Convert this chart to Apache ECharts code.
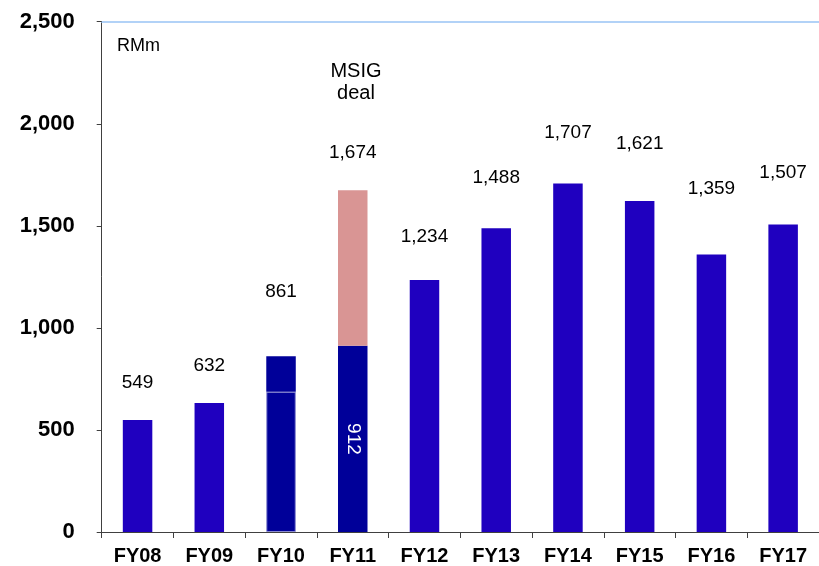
<!DOCTYPE html>
<html>
<head>
<meta charset="utf-8">
<script src="https://cdn.jsdelivr.net/npm/echarts@6/dist/echarts.min.js"></script>
<style>
html,body{margin:0;padding:0;background:#fff;}
#c{width:819px;height:566px;}
</style>
</head>
<body>
<div id="c"></div>
<script>
// ---- data ----
const categories = ['FY08','FY09','FY10','FY11','FY12','FY13','FY14','FY15','FY16','FY17'];
const baseValues = [549, 632, 687, 912, 1234, 1488, 1707, 1621, 1359, 1507];
const topValues  = [null, null, 174, 762, null, null, null, null, null, null];
const totalValues = [549, 632, 861, 1674, 1234, 1488, 1707, 1621, 1359, 1507];
const yMin = 0, yMax = 2500, yInterval = 500;
const unitText = 'RMm';
const noteText = 'MSIG\ndeal';

// ---- styling ----
const FONT = '"Liberation Sans", Arial, sans-serif';
const mainColor = '#1F00BF';
const darkColor = '#000099';
const pinkColor = '#D99594';
const darkIdx = [2, 3];
const labelGap = [28, 28, 55, 28, 34, 41, 41, 48, 56, 42];

const fmt = v => Number(v).toLocaleString('en-US');

const baseData = baseValues.map((v, i) => {
  const hasTop = topValues[i] != null;
  const item = {
    value: v,
    itemStyle: { color: darkIdx.includes(i) ? darkColor : mainColor }
  };
  if (i === 2) {
    item.itemStyle.borderColor = '#8a8ad0';
    item.itemStyle.borderWidth = 1;
  }
  if (!hasTop) {
    item.label = {
      show: true, position: 'top', distance: labelGap[i],
      formatter: () => fmt(totalValues[i]),
      color: '#000', fontSize: 19, fontFamily: FONT
    };
  } else if (i === 3) {
    item.label = {
      show: true, position: 'inside', rotate: -90,
      formatter: () => fmt(v),
      color: '#fff', fontSize: 19, fontFamily: FONT
    };
  }
  return item;
});

const topData = topValues.map((v, i) => {
  if (v == null) return null;
  return {
    value: v,
    itemStyle: { color: i === 3 ? pinkColor : darkColor },
    label: {
      show: true, position: 'top', distance: labelGap[i],
      formatter: () => fmt(totalValues[i]),
      color: '#000', fontSize: 19, fontFamily: FONT
    }
  };
});

const chart = echarts.init(document.getElementById('c'), null, { renderer: 'canvas' });
chart.setOption({
  backgroundColor: '#fff',
  animation: false,
  grid: { left: 101.7, top: 21.7, width: 727, height: 511.6, containLabel: false },
  xAxis: [{
    type: 'category',
    data: categories,
    position: 'bottom',
    axisLine: { show: true, lineStyle: { color: '#404040', width: 1 } },
    axisTick: { show: true, length: 6, lineStyle: { color: '#404040' } },
    axisLabel: { color: '#000', fontSize: 20, fontWeight: 'bold', fontFamily: FONT, margin: 14 }
  }, {
    type: 'category',
    data: categories,
    position: 'top',
    axisLine: { show: true, lineStyle: { color: '#99C4F5', width: 1.5 } },
    axisTick: { show: false },
    axisLabel: { show: false }
  }],
  yAxis: {
    type: 'value',
    min: yMin, max: yMax, interval: yInterval,
    axisLine: { show: true, lineStyle: { color: '#404040', width: 1 } },
    axisTick: { show: true, inside: false, length: 5, lineStyle: { color: '#404040' } },
    splitLine: { show: false },
    axisLabel: {
      color: '#000', fontSize: 22, fontWeight: 'bold', fontFamily: FONT, margin: 27,
      formatter: v => fmt(v)
    }
  },
  graphic: [
    { type: 'text', left: 117, top: 37, style: { text: unitText, fill: '#000', font: '18px ' + FONT } },
    { type: 'text', x: 356, y: 60, style: { text: noteText, fill: '#000', font: '20px ' + FONT, textAlign: 'center', lineHeight: 22 } }
  ],
  series: [{
    type: 'bar', stack: 'total', barWidth: 29.5,
    data: baseData
  }, {
    type: 'bar', stack: 'total', barWidth: 29.5,
    data: topData
  }]
});
</script>
</body>
</html>
